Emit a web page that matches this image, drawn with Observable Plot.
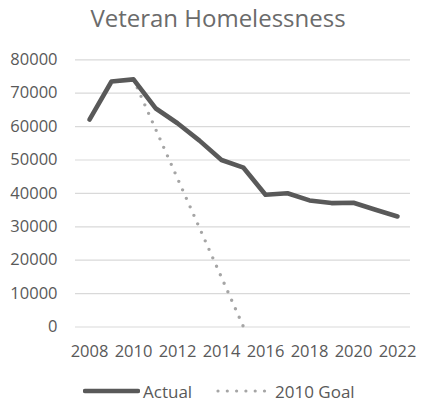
<!DOCTYPE html>
<html>
<head>
<meta charset="utf-8">
<script src="https://cdn.jsdelivr.net/npm/d3@7"></script>
<script src="https://cdn.jsdelivr.net/npm/@observablehq/plot@0.6"></script>
<style>
  html, body { margin: 0; padding: 0; background: #fff; }
  #wrap { position: relative; width: 422px; height: 403px; font-family: "Open Sans", sans-serif; overflow: hidden; }
  #title { position: absolute; left: 0; width: 436px; top: 1px; text-align: center; font-size: 24px; color: #6b6b6b; line-height: 34px; white-space: nowrap; }
  #chart { position: absolute; left: 0; top: 0; }
  #legend { position: absolute; top: 380px; left: 0; width: 422px; height: 22px; font-size: 17px; color: #595959; }
  .item { position: absolute; top: 0; display: flex; align-items: center; height: 22px; white-space: nowrap; }
</style>
</head>
<body>
<div id="wrap">
  <div id="chart"></div>
  <div id="title">Veteran Homelessness</div>
  <div id="legend"></div>
</div>
<script>
const years = [2008, 2009, 2010, 2011, 2012, 2013, 2014, 2015, 2016, 2017, 2018, 2019, 2020, 2021, 2022];
const actualValues = [62100, 73500, 74150, 65500, 61000, 55800, 50000, 47700, 39600, 40050, 37900, 37100, 37200, 35100, 33100];
const goalYears = [2010, 2015];
const goalValues = [74150, 0];
const xTickLabels = [2008, 2010, 2012, 2014, 2016, 2018, 2020, 2022];
const yTickLabels = [0, 10000, 20000, 30000, 40000, 50000, 60000, 70000, 80000];
const seriesNames = ["Actual", "2010 Goal"];

const actual = years.map((y, i) => ({year: y, value: actualValues[i]}));
const goal = goalYears.map((y, i) => ({year: y, value: goalValues[i]}));

const chart = Plot.plot({
  width: 422,
  height: 403,
  marginTop: 59.3,
  marginBottom: 76.5,
  marginLeft: 75,
  marginRight: 12,
  style: {fontFamily: "Open Sans, sans-serif", fontSize: "16.5px", color: "#595959", background: "transparent"},
  x: {type: "point", domain: years, padding: 0.5},
  y: {domain: [0, 80000]},
  marks: [
    Plot.ruleY(yTickLabels, {stroke: "#d9d9d9", strokeWidth: 1.2}),
    Plot.axisY({ticks: yTickLabels, tickSize: 0, tickPadding: 18, tickFormat: d => String(d), label: null, fill: "#595959", fontSize: 16.5}),
    Plot.axisX({ticks: xTickLabels, tickSize: 0, tickPadding: 18, tickFormat: d => String(d), label: null, fill: "#595959", fontSize: 16.5}),
    Plot.line(goal, {x: "year", y: "value", stroke: "#a5a5a5", strokeWidth: 3.4, strokeDasharray: "0 9.3", strokeLinecap: "round"}),
    Plot.line(actual, {x: "year", y: "value", stroke: "#595959", strokeWidth: 4.6, strokeLinecap: "round", strokeLinejoin: "round"})
  ]
});
document.getElementById("chart").appendChild(chart);

const legend = document.getElementById("legend");
legend.innerHTML = `
  <div class="item" style="left:83px">
    <svg width="57" height="22"><line x1="2" y1="11" x2="55" y2="11" stroke="#595959" stroke-width="4.6" stroke-linecap="round"/></svg>
    <span style="margin-left:3px">${seriesNames[0]}</span>
  </div>
  <div class="item" style="left:215px">
    <svg width="52" height="22"><line x1="3" y1="11" x2="50" y2="11" stroke="#a5a5a5" stroke-width="3.2" stroke-dasharray="0 9.3" stroke-linecap="round"/></svg>
    <span style="margin-left:8px">${seriesNames[1]}</span>
  </div>`;
</script>
</body>
</html>
